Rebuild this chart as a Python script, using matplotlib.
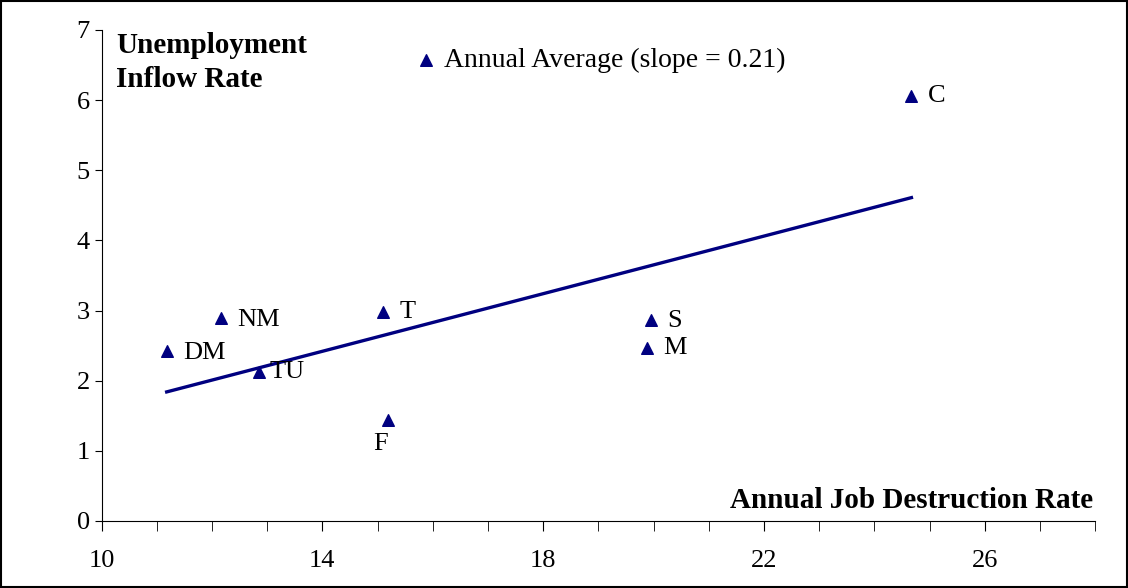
import matplotlib
matplotlib.use("Agg")
import matplotlib.pyplot as plt
from matplotlib.patches import Rectangle

labels = ["DM", "NM", "TU", "T", "F", "S", "M", "C"]
x = [11.18, 12.16, 12.85, 15.1, 15.18, 19.95, 19.88, 24.67]
y = [2.42, 2.9, 2.13, 2.98, 1.44, 2.87, 2.47, 6.06]
trend_x = [11.18, 24.67]
trend_y = [1.84, 4.61]
offsets = {"DM": (12, -1), "NM": (12, -2), "TU": (8, 0), "T": (12, 0),
           "F": (-10, -17), "S": (12, -1), "M": (12, 0), "C": (12, 0)}

plt.rcParams['font.family'] = ['Liberation Serif', 'DejaVu Serif']
fig = plt.figure(figsize=(11.28, 5.88), dpi=100)
ax = fig.add_axes([0.090, 0.114, 0.881, 0.835])
navy = "#000080"
ax.plot(trend_x, trend_y, color=navy, lw=2.4)
ax.scatter(x, y, marker="^", s=70, color=navy, zorder=3)
for l, xi, yi in zip(labels, x, y):
    ax.annotate(l, (xi, yi), xytext=offsets[l], textcoords="offset points",
                fontsize=19, va="center")
ax.set_xlim(10, 28)
ax.set_ylim(0, 7)
ax.set_xticks([10, 14, 18, 22, 26])
ax.set_xticks(range(10, 29), minor=True)
ax.set_yticks(range(0, 8))
for s in ["top", "right"]:
    ax.spines[s].set_visible(False)
ax.tick_params(axis="both", direction="out", labelsize=19)
ax.tick_params(axis="x", which="both", length=7, pad=14)
ax.tick_params(axis="y", length=5)
ax.text(0.015, 0.995, "Unemployment\nInflow Rate", transform=ax.transAxes,
        fontsize=21, fontweight="bold", va="top", linespacing=1.3)
ax.text(0.998, 0.015, "Annual Job Destruction Rate", transform=ax.transAxes,
        fontsize=21, fontweight="bold", ha="right", va="bottom")
ax.scatter([0.327], [0.939], marker="^", s=70, color=navy, transform=ax.transAxes, clip_on=False)
ax.text(0.345, 0.939, "Annual Average (slope = 0.21)", transform=ax.transAxes,
        fontsize=20, va="center")
fig.patches.append(Rectangle((0.001, 0.001), 0.998, 0.998, transform=fig.transFigure,
                             fill=False, edgecolor="black", lw=1.5))
fig.savefig("out.png", dpi=100)
